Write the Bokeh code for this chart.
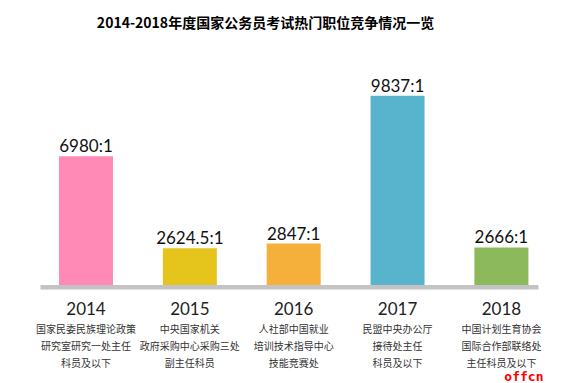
from bokeh.plotting import figure
from bokeh.models import Range1d, ColumnDataSource
from bokeh.embed import file_html
from bokeh.resources import INLINE
from bokeh.core.properties import value

# ---- data ----
title_text = "2014-2018年度国家公务员考试热门职位竞争情况一览"
years = ["2014", "2015", "2016", "2017", "2018"]
ratios = [6980, 2624.5, 2847, 9837, 2666]
ratio_labels = ["6980:1", "2624.5:1", "2847:1", "9837:1", "2666:1"]
desc_line1 = ["国家民委民族理论政策", "中央国家机关", "人社部中国就业", "民盟中央办公厅", "中国计划生育协会"]
desc_line2 = ["研究室研究一处主任", "政府采购中心采购三处", "培训技术指导中心", "接待处主任", "国际合作部联络处"]
desc_line3 = ["科员及以下", "副主任科员", "技能竞赛处", "科员及以下", "主任科员及以下"]
colors = ["#FF8AB5", "#E5C41C", "#F5B03B", "#58B4CC", "#8BB95B"]

# ---- layout helpers (page pixel -> data) ----
W, H = 568, 383
OFF = 0              # page offset of the figure
XS = 103.85          # px per category step
X0 = 85.5            # page x of first bar centre
BASE = 890.0         # value at bar baseline
BASE_PAGE = 284.5    # page y of baseline
A = 0.021158         # px per value unit


def xd(px):
    return (px - X0) / XS


def yd(py):
    return BASE + (BASE_PAGE - py) / A


PXV = 1.0 / A  # value units per pixel

p = figure(width=W, height=H, output_backend="svg", toolbar_location=None,
           x_range=Range1d(xd(OFF), xd(OFF + W)), y_range=Range1d(yd(OFF + H), yd(OFF)),
           min_border=0, outline_line_color=None)
p.axis.visible = False
p.grid.visible = False
p.background_fill_color = "white"
p.border_fill_color = "white"

idx = list(range(len(years)))
src = ColumnDataSource(dict(
    x=idx, top=ratios, color=colors, lab=ratio_labels,
    laby=[r + 10.5 * PXV for r in ratios],
    years=years,
    yy=[BASE - 23.5 * PXV] * len(years),
    d1=desc_line1, d2=desc_line2, d3=desc_line3,
    y1=[BASE - 43.2 * PXV] * len(years),
    y2=[BASE - 60.5 * PXV] * len(years),
    y3=[BASE - 77.2 * PXV] * len(years),
))

p.vbar(x="x", top="top", bottom=BASE, width=54 / XS, fill_color="color",
       line_color=None, source=src)

# baseline
p.quad(left=xd(40), right=xd(538), bottom=yd(289), top=yd(284.5),
       fill_color="#C3C3C3", line_color=None)

cjk = value("Noto Sans CJK SC")
lat = value("Lato")

p.text(x="x", y="laby", text="lab", source=src, text_font=lat,
       text_font_size="17px", text_align="center", text_baseline="alphabetic",
       text_color="#111111")
p.text(x="x", y="yy", text="years", source=src, text_font=lat,
       text_font_size="17px", text_align="center", text_baseline="alphabetic",
       text_color="#222222")
for col, ycol in (("d1", "y1"), ("d2", "y2"), ("d3", "y3")):
    p.text(x="x", y=ycol, text=col, source=src, text_font=cjk,
           text_font_size="10px", text_align="center", text_baseline="middle",
           text_color="#333333")

# title
p.text(x=[xd(265)], y=[yd(21)], text=[title_text], text_font=cjk,
       text_font_size="14px", text_font_style="bold", text_align="center",
       text_baseline="middle", text_color="#000000")

# corner mark
p.text(x=[xd(543)], y=[yd(376)], text=["offcn"], text_font=value("DejaVu Sans Mono"),
       text_font_size="13px", text_font_style="bold", text_align="right",
       text_baseline="alphabetic", text_color="#FF0000")

open("out.html", "w").write(file_html(p, INLINE))
